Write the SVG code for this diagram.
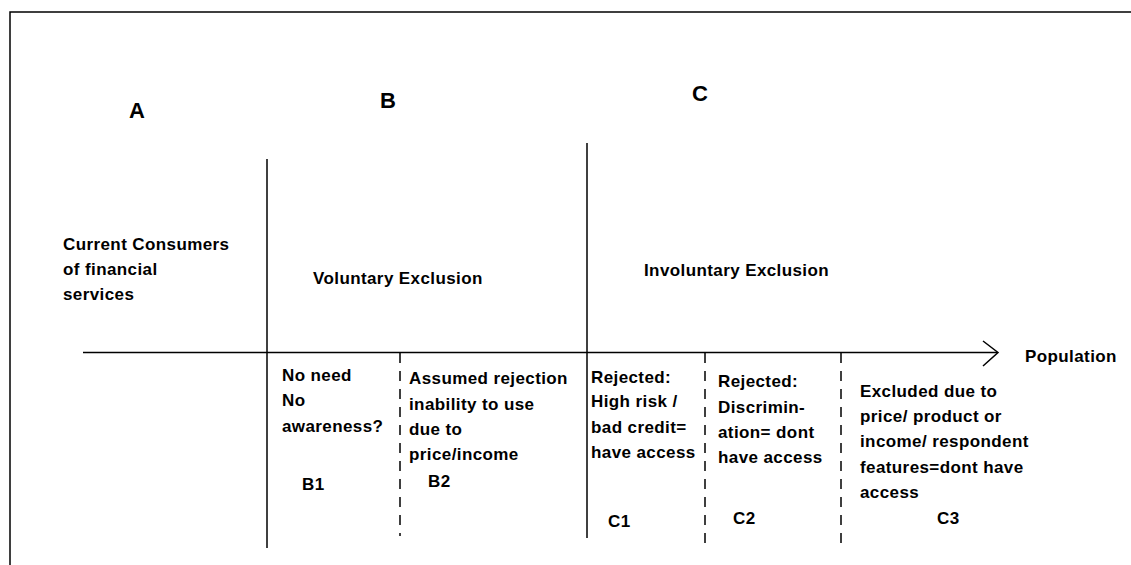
<svg xmlns="http://www.w3.org/2000/svg" width="1131" height="565" viewBox="0 0 1131 565">
<style>
.t{font-family:"Liberation Sans",Arial,sans-serif;font-weight:bold;font-size:17px;letter-spacing:0.4px;fill:#000}
.big{font-family:"Liberation Sans",Arial,sans-serif;font-weight:bold;font-size:22px;fill:#000}
.ln{stroke:#000;stroke-width:1.5;fill:none}
.dash{stroke:#000;stroke-width:1.5;fill:none;stroke-dasharray:10 8}
</style>
<rect width="1131" height="565" fill="#fff"/>
<g id="frame">
<polyline class="ln" points="10,565 10,12 1131,12" stroke-width="2"/>
</g>
<g id="connectors">
<line class="ln" x1="83" y1="352.5" x2="997" y2="352.5"/>
<polyline class="ln" points="983,341 998,352.5 983,366"/>
<line class="ln" x1="267" y1="159" x2="267" y2="548"/>
<line class="ln" x1="587" y1="143" x2="587" y2="538"/>
<line class="dash" x1="400" y1="353" x2="400" y2="536"/>
<line class="dash" x1="705" y1="353" x2="705" y2="544"/>
<line class="dash" x1="841" y1="353" x2="841" y2="544"/>
</g>
<g id="label-A"><text class="big" x="129" y="118">A</text></g>
<g id="label-B"><text class="big" x="380" y="108">B</text></g>
<g id="label-C"><text class="big" x="692" y="101">C</text></g>
<g id="node-A">
<text class="t" x="63" y="250">Current Consumers</text>
<text class="t" x="63" y="275">of financial</text>
<text class="t" x="63" y="300">services</text>
</g>
<g id="node-B"><text class="t" x="313" y="284">Voluntary Exclusion</text></g>
<g id="node-C"><text class="t" x="644" y="276">Involuntary Exclusion</text></g>
<g id="axis-label"><text class="t" x="1025" y="362">Population</text></g>
<g id="node-B1">
<text class="t" x="282" y="381">No need</text>
<text class="t" x="282" y="406">No</text>
<text class="t" x="282" y="432">awareness?</text>
<text class="t" x="302" y="490">B1</text>
</g>
<g id="node-B2">
<text class="t" x="409" y="384">Assumed rejection</text>
<text class="t" x="409" y="410">inability to use</text>
<text class="t" x="409" y="435">due to</text>
<text class="t" x="409" y="460">price/income</text>
<text class="t" x="428" y="487">B2</text>
</g>
<g id="node-C1">
<text class="t" x="591" y="383">Rejected:</text>
<text class="t" x="591" y="407">High risk /</text>
<text class="t" x="591" y="433">bad credit=</text>
<text class="t" x="591" y="458">have access</text>
<text class="t" x="608" y="527">C1</text>
</g>
<g id="node-C2">
<text class="t" x="718" y="387">Rejected:</text>
<text class="t" x="718" y="413">Discrimin-</text>
<text class="t" x="718" y="438">ation= dont</text>
<text class="t" x="718" y="463">have access</text>
<text class="t" x="733" y="524">C2</text>
</g>
<g id="node-C3">
<text class="t" x="860" y="397">Excluded due to</text>
<text class="t" x="860" y="422">price/ product or</text>
<text class="t" x="860" y="447">income/ respondent</text>
<text class="t" x="860" y="473">features=dont have</text>
<text class="t" x="860" y="498">access</text>
<text class="t" x="937" y="524">C3</text>
</g>
</svg>
